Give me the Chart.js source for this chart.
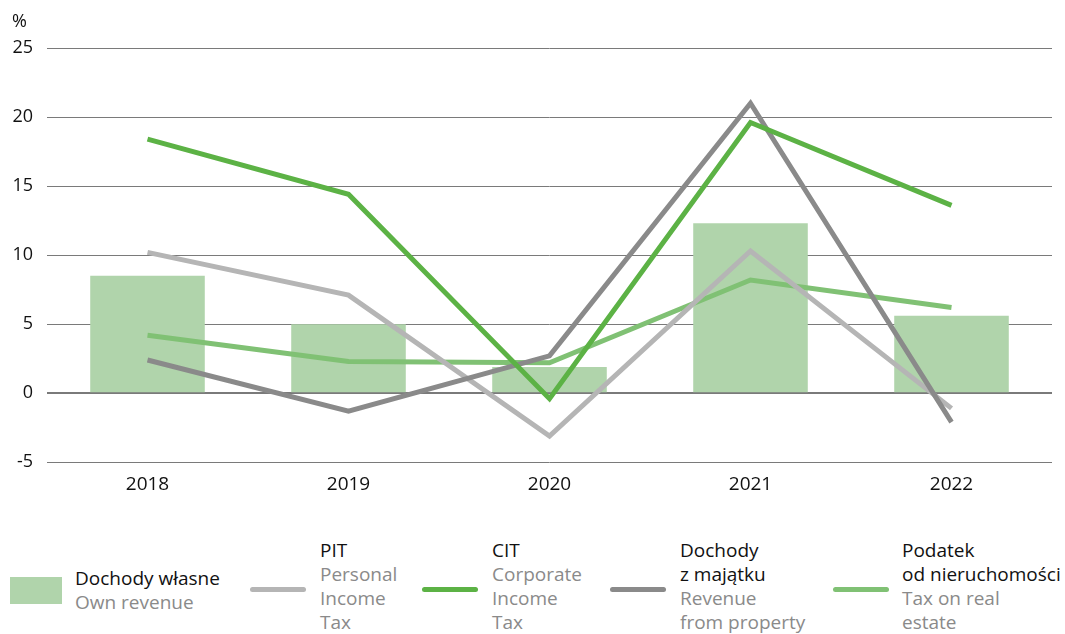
<!DOCTYPE html>
<html>
<head>
<meta charset="utf-8">
<script src="https://cdn.jsdelivr.net/npm/chart.js@4/dist/chart.umd.min.js"></script>
<style>
  html, body { margin: 0; padding: 0; background: #fff; }
  body { width: 1065px; height: 634px; position: relative; overflow: hidden; font-family: 'Open Sans', sans-serif; }
  #wrap { position: absolute; left: 0; top: -3px; width: 1065px; height: 506px; }
  #unit { position: absolute; left: 12px; top: 8px; font-size: 18px; color: #111; }
  .leg { position: absolute; font-size: 19px; line-height: 24px; }
  .leg .pl { color: #111; }
  .leg .en { color: #8a8a8a; }
  .sw { position: absolute; }
</style>
</head>
<body>
<div id="wrap"><canvas id="chart"></canvas></div>
<div id="unit">%</div>
<div id="legend"></div>
<script>
// Years and growth rates, %
const years = ['2018', '2019', '2020', '2021', '2022'];
const ownRevenue = [8.5, 5.0, 1.9, 12.3, 5.6];
const pit = [10.2, 7.1, -3.1, 10.3, -1.1];
const cit = [18.4, 14.4, -0.4, 19.6, 13.6];
const propertyRevenue = [2.4, -1.3, 2.7, 21.0, -2.1];
const realEstateTax = [4.2, 2.3, 2.2, 8.2, 6.2];
const yTicks = [-5, 0, 5, 10, 15, 20, 25];

const colors = {
  own: '#b0d4ab',
  pit: '#b5b5b5',
  cit: '#5cb245',
  prop: '#8a8a8a',
  estate: '#80c174'
};

function lineSet(label, data, color, order) {
  return {
    type: 'line', label, data,
    borderColor: color, backgroundColor: color,
    borderWidth: 5, pointRadius: 0, tension: 0,
    borderJoinStyle: 'miter', borderCapStyle: 'butt',
    order
  };
}

new Chart(document.getElementById('chart'), {
  type: 'bar',
  data: {
    labels: years,
    datasets: [
      { type: 'bar', label: 'Dochody własne', data: ownRevenue, backgroundColor: colors.own,
        barPercentage: 0.57, categoryPercentage: 1, order: 10 },
      lineSet('Podatek od nieruchomości', realEstateTax, colors.estate, 5),
      lineSet('PIT', pit, colors.pit, 4),
      lineSet('Dochody z majątku', propertyRevenue, colors.prop, 3),
      lineSet('CIT', cit, colors.cit, 2)
    ]
  },
  options: {
    responsive: true,
    maintainAspectRatio: false,
    animation: false,
    layout: { padding: { top: 51, right: 13, bottom: 4, left: 0 } },
    plugins: { legend: { display: false }, tooltip: { enabled: false } },
    scales: {
      x: {
        grid: { display: false },
        border: { display: false },
        ticks: { color: '#111', font: { family: 'Open Sans', size: 19 }, padding: 3 }
      },
      y: {
        min: -5, max: 25,
        afterBuildTicks: s => { s.ticks = yTicks.map(v => ({ value: v })); },
        afterFit: s => { s.width = 47; },
        border: { display: false },
        grid: {
          drawTicks: false,
          color: '#7a7a7a',
          lineWidth: c => (c.tick && c.tick.value === 0 ? 2 : 1)
        },
        ticks: { color: '#111', font: { family: 'Open Sans', size: 18 }, padding: 14 }
      }
    }
  }
});

// Legend below the chart
const legendItems = [
  { kind: 'box', color: colors.own, x: 10, tx: 75, top: 566, pl: ['Dochody własne'], en: ['Own revenue'] },
  { kind: 'line', color: colors.pit, x: 250, tx: 320, top: 538, pl: ['PIT'], en: ['Personal', 'Income', 'Tax'] },
  { kind: 'line', color: colors.cit, x: 422, tx: 492, top: 538, pl: ['CIT'], en: ['Corporate', 'Income', 'Tax'] },
  { kind: 'line', color: colors.prop, x: 610, tx: 680, top: 538, pl: ['Dochody', 'z majątku'], en: ['Revenue', 'from property'] },
  { kind: 'line', color: colors.estate, x: 833, tx: 902, top: 538, pl: ['Podatek', 'od nieruchomości'], en: ['Tax on real', 'estate'] }
];
const legend = document.getElementById('legend');
legendItems.forEach(it => {
  const sw = document.createElement('div');
  sw.className = 'sw';
  if (it.kind === 'box') {
    Object.assign(sw.style, { left: it.x + 'px', top: '577px', width: '52px', height: '27px', background: it.color });
  } else {
    Object.assign(sw.style, { left: it.x + 'px', top: '587px', width: '56px', height: '5px', borderRadius: '3px', background: it.color });
  }
  legend.appendChild(sw);
  const t = document.createElement('div');
  t.className = 'leg';
  t.style.left = it.tx + 'px';
  t.style.top = it.top + 'px';
  t.innerHTML = it.pl.map(s => `<div class="pl">${s}</div>`).join('') +
    it.en.map(s => `<div class="en">${s}</div>`).join('');
  legend.appendChild(t);
});
</script>
</body>
</html>
